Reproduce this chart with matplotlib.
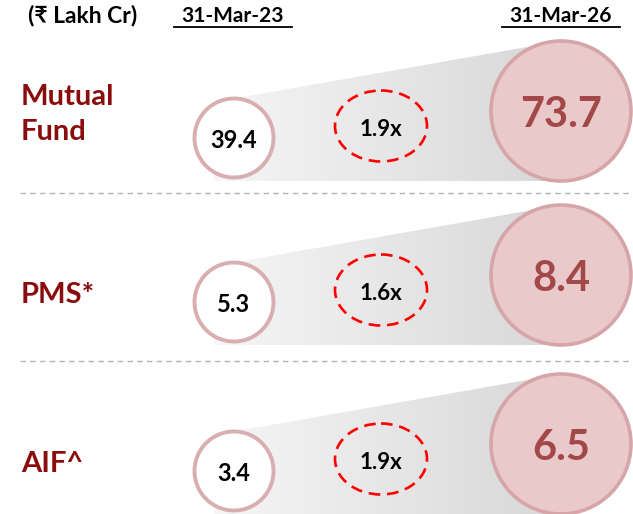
import numpy as np
import matplotlib.pyplot as plt
from matplotlib.patches import Circle, Ellipse, Polygon
from matplotlib.colors import LinearSegmentedColormap

# data
categories = ["Mutual\nFund", "PMS*", "AIF^"]
values_2023 = [39.4, 5.3, 3.4]
values_2026 = [73.7, 8.4, 6.5]
growth = ["1.9x", "1.6x", "1.9x"]
unit_label = "(₹ Lakh Cr)"
period_labels = ["31-Mar-23", "31-Mar-26"]

plt.rcParams["font.family"] = ["Lato", "DejaVu Sans"]

W, H = 633, 514
fig = plt.figure(figsize=(W / 100, H / 100), dpi=100)
ax = fig.add_axes([0, 0, 1, 1])
ax.set_xlim(0, W)
ax.set_ylim(H, 0)
ax.axis("off")

label_red = "#8b0c0c"
small_edge = "#d9aeb0"
big_face = "#e9c9ca"
big_edge = "#d6a5a7"
big_text = "#a34848"
grad_cmap = LinearSegmentedColormap.from_list("g", ["#f6f6f6", "#d7d7d7"])

row_off = [0, 164, 333]
small_x, small_r = 234, 39.5
big_x, big_r = 561, 70
ratio_x = 381

# header
ax.text(28, 22, unit_label, fontsize=16.5, fontweight="bold", va="baseline", ha="left")
for x0, lab in zip([233, 561], period_labels):
    ax.text(x0, 22, lab, fontsize=15, fontweight="bold", va="baseline", ha="center")
    ax.plot([x0 - 59, x0 + 59], [26.5, 26.5], color="black", lw=1.3)

# separators
for y in [193, 361]:
    ax.plot([20, W], [y, y], color="#b3b3b3", lw=1, ls=(0, (4, 3)))

grad = np.linspace(0, 1, 256).reshape(1, -1)

for i, cat in enumerate(categories):
    off = row_off[i]
    sy = 138 + off
    by = 111 + off
    ey = 126 + off
    bottom = by + big_r

    # gray funnel with horizontal gradient
    poly = Polygon([(214, bottom), (214, sy), (small_x, sy - small_r),
                    (big_x, by - big_r), (big_x, bottom)],
                   closed=True, facecolor="none", edgecolor="none")
    ax.add_patch(poly)
    im = ax.imshow(grad, cmap=grad_cmap, aspect="auto",
                   extent=[214, big_x, bottom, by - big_r], zorder=1)
    im.set_clip_path(poly)

    # label, baseline-aligned line by line
    lines = cat.split("\n")
    base = 140 + off - 35 * (len(lines) - 1)
    if len(lines) == 1:
        base = 140 + off - 1
    for k, ln in enumerate(lines):
        ax.text(21, base + 35 * k, ln, fontsize=21, fontweight="bold",
                color=label_red, va="baseline", ha="left")

    # small circle (2023)
    ax.add_patch(Circle((small_x, sy), small_r, facecolor="white",
                        edgecolor=small_edge, lw=2.8, zorder=3))
    ax.text(small_x, sy + 10, f"{values_2023[i]:.1f}", fontsize=17,
            fontweight="bold", ha="center", va="baseline", zorder=4)

    # growth ellipse
    ax.add_patch(Ellipse((ratio_x, ey), 92, 71, facecolor="none",
                         edgecolor="#ff0000", lw=1.9, ls=(0, (4.4, 2.6)), zorder=3))
    ax.text(ratio_x, ey + 10, growth[i], fontsize=16, fontweight="bold",
            ha="center", va="baseline", zorder=4)

    # big circle (2026)
    ax.add_patch(Circle((big_x, by), big_r, facecolor=big_face,
                        edgecolor=big_edge, lw=2.6, zorder=3))
    ax.text(big_x, by + 16, f"{values_2026[i]:.1f}", fontsize=30,
            fontweight="bold", color=big_text, ha="center", va="baseline", zorder=4)

fig.savefig("out.png", dpi=100)
